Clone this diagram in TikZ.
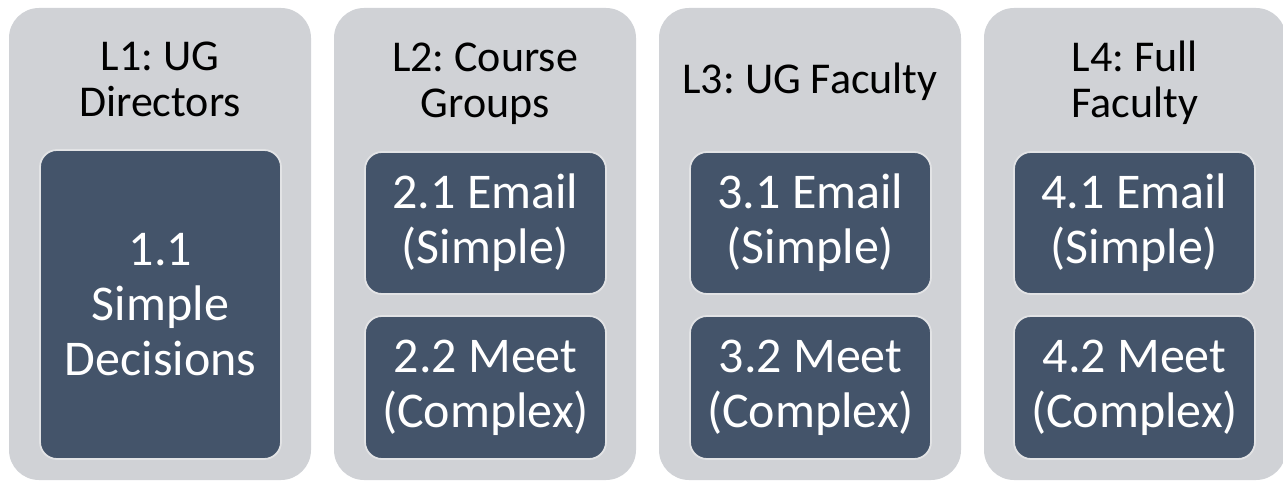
\documentclass[tikz,border=0pt]{standalone}
\usepackage{fontspec}
\setmainfont{Carlito}
\frenchspacing
\definecolor{colgray}{RGB}{208,210,214}
\definecolor{slate}{RGB}{68,84,106}
\definecolor{rim}{RGB}{226,227,229}
\begin{document}
\begin{tikzpicture}[x=1pt,y=-1pt,
  colbox/.style={fill=colgray, rounded corners=30pt, minimum width=302pt, minimum height=472pt, inner sep=0pt, outer sep=0pt},
  itembox/.style={draw=rim, line width=1.8pt, fill=slate, rounded corners=17pt, minimum width=241pt, inner sep=0pt, outer sep=0pt,
                  align=center, text=white, font=\fontsize{50}{55}\selectfont},
  title/.style={align=center, font=\fontsize{44}{46}\selectfont, text=black, inner sep=0pt}]
\useasboundingbox (0,0) rectangle (1283,481);
% columns
\node[colbox] (c1) at (160,244) {};
\node[colbox] (c2) at (485,244) {};
\node[colbox] (c3) at (810,244) {};
\node[colbox] (c4) at (1135,244) {};
% titles
\node[title] (t1) at (160,79.5) {L1: UG\\Directors};
\node[title] (t2) at (485,84) {L2: Course\\Groups};
\node[title] (t3) at (810,81.5) {L3: UG Faculty};
\node[title] (t4) at (1135,83) {L4: Full\\Faculty};
% items
\node[itembox, minimum height=309pt] (b11) at (160.5,304.5) {1.1\\Simple\\Decisions};
\node[itembox, minimum height=142pt] (b21) at (485.5,223) {2.1 Email\\(Simple)};
\node[itembox, minimum height=143pt] (b22) at (485.5,387.5) {2.2 Meet\\(Complex)};
\node[itembox, minimum height=142pt] (b31) at (810.5,223) {3.1 Email\\(Simple)};
\node[itembox, minimum height=143pt] (b32) at (810.5,387.5) {3.2 Meet\\(Complex)};
\node[itembox, minimum height=142pt] (b41) at (1134.5,223) {4.1 Email\\(Simple)};
\node[itembox, minimum height=143pt] (b42) at (1134.5,387.5) {4.2 Meet\\(Complex)};
\end{tikzpicture}
\end{document}
